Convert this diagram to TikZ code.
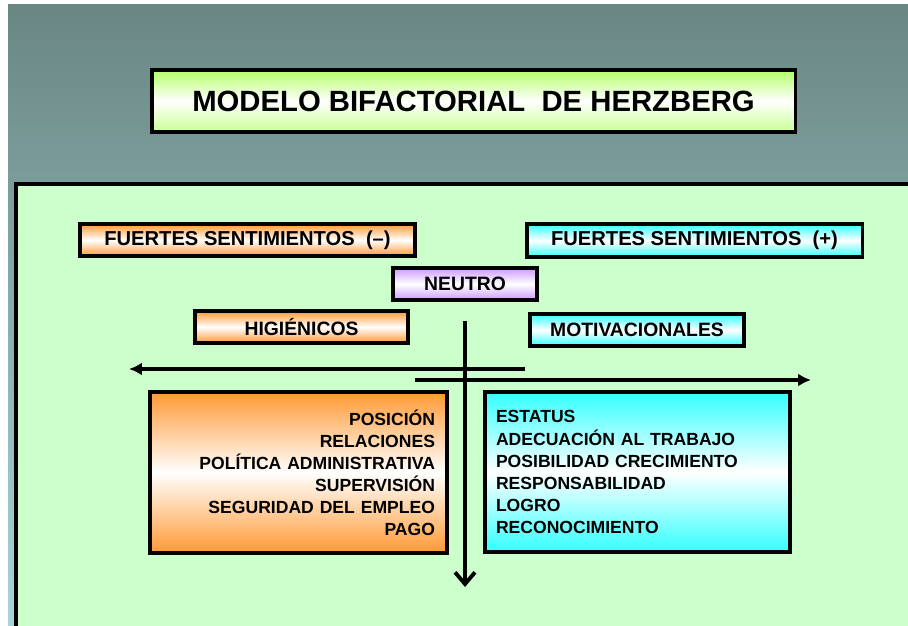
\documentclass[tikz,border=0pt]{standalone}
\usepackage{fontspec}
\setmainfont{Liberation Sans}
\usepackage{tikz}
\usetikzlibrary{arrows.meta}

\definecolor{fondoarriba}{HTML}{6A8683}
\definecolor{fondoabajo}{HTML}{A6D6D8}
\definecolor{panel}{HTML}{CCFFCC}
\definecolor{naranja}{HTML}{FF9933}
\definecolor{celeste}{HTML}{33FFFF}
\definecolor{lila}{HTML}{CC99FF}
\definecolor{lima}{HTML}{B3FF66}

\begin{document}
\begin{tikzpicture}
  [
    x = 0.03cm, y = -0.03cm,  % one unit = one pixel of the slide
    every node/.style = {draw, line width = 2.6pt, inner sep = 0pt,
                         font = \bfseries\fontsize{16.5}{19}\selectfont},
    negbox/.style = {top color = naranja, bottom color = naranja, middle color = white},
    posbox/.style = {top color = celeste, bottom color = celeste, middle color = white},
    neubox/.style = {top color = lila, bottom color = lila, middle color = white},
    listbox/.style = {font = \bfseries\fontsize{15}{18.8}\selectfont, text width = #1},
    eje/.style = {line width = 3.3pt}
  ]
  \useasboundingbox (0,0) rectangle (908,626);
  % slide and panel
  \fill[white] (0,0) rectangle (908,626);
  \fill[top color = fondoarriba, bottom color = fondoabajo] (8,5) rectangle (908,626);
  \filldraw[fill = panel, line width = 3.2pt] (16,184) rectangle (914,634);

  \node (Titulo) [top color = lima, bottom color = lima!70!white, middle color = white,
    minimum width = 19.29cm, minimum height = 1.86cm,
    font = \bfseries\fontsize{25}{30}\selectfont] at (473.5,101) {MODELO BIFACTORIAL \ DE HERZBERG};

  \node (Negativo) [negbox, minimum width = 10.05cm, minimum height = 0.96cm,
    font = \bfseries\fontsize{17.2}{19}\selectfont]
    at (247.5,240) {FUERTES SENTIMIENTOS \ (--)};
  \node (Positivo) [posbox, minimum width = 10.05cm, minimum height = 0.99cm,
    font = \bfseries\fontsize{17.2}{19}\selectfont]
    at (694.5,240.5) {FUERTES SENTIMIENTOS \ (+)};
  \node (Neutro) [neubox, minimum width = 4.32cm, minimum height = 0.96cm]
    at (465,284) {NEUTRO};
  \node (Higienicos) [negbox, minimum width = 6.39cm, minimum height = 0.96cm]
    at (301.5,327) {HIGIÉNICOS};
  \node (Motivacionales) [posbox, minimum width = 6.42cm, minimum height = 0.96cm]
    at (637,330) {MOTIVACIONALES};

  \node (ListaHig) [negbox, listbox = 8.19cm, align = right, inner xsep = 0.36cm,
    minimum height = 4.83cm] at (298.5,472.5)
    {POSICIÓN\\ RELACIONES\\ POLÍTICA ADMINISTRATIVA\\ SUPERVISIÓN\\
     SEGURIDAD DEL EMPLEO\\ PAGO};
  \node (ListaMot) [posbox, listbox = 8.49cm, align = left, inner xsep = 0.33cm,
    minimum height = 4.8cm] at (637.5,472)
    {ESTATUS\\ ADECUACIÓN AL TRABAJO\\ POSIBILIDAD CRECIMIENTO\\ RESPONSABILIDAD\\
     LOGRO\\ RECONOCIMIENTO};

  % axes
  \coordinate (EjeArriba) at (465,321);
  \coordinate (EjeAbajo) at (465,587);
  \coordinate (IzqInicio) at (525,369);
  \coordinate (IzqFin) at (129,369);
  \coordinate (DerInicio) at (415,380);
  \coordinate (DerFin) at (811,380);
  \draw[eje, -{Straight Barb[length = 10pt, width = 17pt, line width = 3.3pt]}] (EjeArriba) -- (EjeAbajo);
  \draw[eje, -{Latex[length = 11pt, width = 11pt]}] (IzqInicio) -- (IzqFin);
  \draw[eje, -{Latex[length = 11pt, width = 11pt]}] (DerInicio) -- (DerFin);
\end{tikzpicture}
\end{document}
